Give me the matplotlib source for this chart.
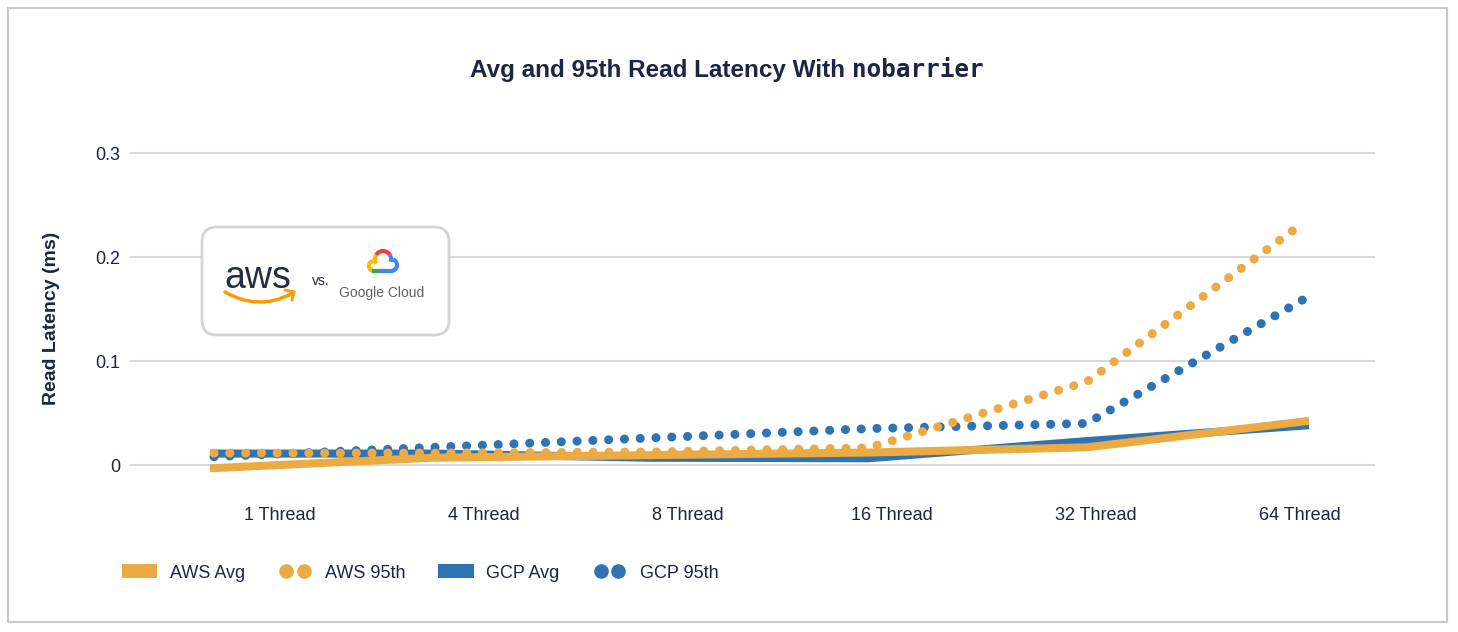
import numpy as np
import matplotlib.pyplot as plt
from matplotlib.patches import FancyBboxPatch, Rectangle, Arc, PathPatch, Patch
from matplotlib.path import Path
from matplotlib.lines import Line2D
from matplotlib.legend_handler import HandlerLine2D

# Datos
threads = ["1 Thread", "4 Thread", "8 Thread", "16 Thread", "32 Thread", "64 Thread"]
aws_avg = [-0.003, 0.007, 0.0095, 0.012, 0.017, 0.042]
aws_95 = [0.0115, 0.0115, 0.0125, 0.0165, 0.080, 0.234]
gcp_avg = [0.011, 0.011, 0.007, 0.0065, 0.023, 0.038]
gcp_95 = [0.008, 0.017, 0.026, 0.035, 0.040, 0.160]
y_ticks = [0, 0.1, 0.2, 0.3]
y_tick_labels = ["0", "0.1", "0.2", "0.3"]

AWS_C = "#ecaa43"
GCP_C = "#2e74b5"
NAVY = "#1c2541"
GRID = "#d9d9d9"

plt.rcParams['font.family'] = ['Liberation Sans', 'DejaVu Sans']

W, H = 1458, 632
fig = plt.figure(figsize=(W / 100, H / 100), dpi=100)

# Ejes principales (y: 0 -> 465 px, 0.3 -> 153 px)
ax = fig.add_axes([130 / W, 1 - 477.5 / H, (1375 - 130) / W, (477.5 - 149.9) / H])
x = np.arange(len(threads))
ax.set_xlim(-0.385, 5.321)
ax.set_ylim(-0.012, 0.303)

dots = (0, (0.01, 1.74))
ax.plot(x, gcp_avg, color=GCP_C, lw=5.8, zorder=3)
ax.plot(x, aws_avg, color=AWS_C, lw=5.8, zorder=4)
ax.plot(x, gcp_95, color=GCP_C, lw=6.5, ls=dots, dash_capstyle='round', zorder=5)
ax.plot(x, aws_95, color=AWS_C, lw=6.5, ls=dots, dash_capstyle='round', zorder=6)

ax.set_yticks(y_ticks)
ax.set_yticklabels(y_tick_labels)
# etiquetas del eje x algo desplazadas respecto a los puntos, como en el original
ax.set_xticks(0.302 + x * 0.935)
ax.set_xticklabels(threads)
ax.tick_params(axis='both', length=0, labelsize=13, labelcolor=NAVY)
ax.tick_params(axis='y', pad=7)
ax.tick_params(axis='x', pad=21)
ax.yaxis.grid(True, color=GRID, lw=1.5)
ax.set_axisbelow(True)
for s in ax.spines.values():
    s.set_visible(False)

fig.text(52 / W, 1 - 318 / H, "Read Latency (ms)", rotation=90, fontsize=14,
         fontweight='bold', color=NAVY, ha='center', va='center')

# Título con la parte "nobarrier" en monoespaciada
t1 = fig.text(0, 0, "Avg and 95th Read Latency With ", fontsize=17.5,
              fontweight='bold', color=NAVY, va='center')
t2 = fig.text(0, 0, "nobarrier", family='DejaVu Sans Mono', fontsize=17.5,
              fontweight='bold', color=NAVY, va='center')
r = fig.canvas.get_renderer()
w1 = t1.get_window_extent(r).width
w2 = t2.get_window_extent(r).width
x0 = 727 - (w1 + w2) / 2
t1.set_position((x0 / W, 1 - 70 / H))
t2.set_position(((x0 + w1) / W, 1 - 70 / H))

# Leyenda
labels = ["AWS Avg", "AWS 95th", "GCP Avg", "GCP 95th"]
h_aws95 = Line2D([], [], ls='none', marker='o', ms=9.5, color=AWS_C)
h_gcp95 = Line2D([], [], ls='none', marker='o', ms=9.5, color=GCP_C)
handles = [Patch(fc=AWS_C, ec='none'), h_aws95, Patch(fc=GCP_C, ec='none'), h_gcp95]
fig.legend(handles, labels, ncol=4, loc='center left',
           bbox_to_anchor=(122 / W, 1 - 573 / H), frameon=False, fontsize=13,
           labelcolor=NAVY, handlelength=1.95, handleheight=0.8,
           handletextpad=0.7, columnspacing=1.8, borderpad=0, borderaxespad=0,
           numpoints=2,
           handler_map={h_aws95: HandlerLine2D(marker_pad=0.5),
                        h_gcp95: HandlerLine2D(marker_pad=0.5)})

# Capa superior en píxeles para el recuadro del logo y el marco
ov = fig.add_axes([0, 0, 1, 1], zorder=10)
ov.set_xlim(0, W)
ov.set_ylim(0, H)
ov.axis('off')
ov.patch.set_alpha(0)


def Y(y):
    return H - y


ov.add_patch(Rectangle((8, Y(622)), 1439, 614, fc='none', ec='#c8c8c8', lw=1.5))
ov.add_patch(FancyBboxPatch((202, Y(335)), 247, 108,
                            boxstyle="round,pad=0,rounding_size=15",
                            fc='white', ec='#d4d4d4', lw=2))

# logo aws
ov.text(258, Y(278), "aws", fontsize=27, color="#232f3e", ha='center', va='center')
smile = Path([(225, Y(292)), (258, Y(311)), (291, Y(294))],
             [Path.MOVETO, Path.CURVE3, Path.CURVE3])
ov.add_patch(PathPatch(smile, fc='none', ec='#f90', lw=2.5, capstyle='round'))
ov.plot([285, 294, 292], [Y(290), Y(292), Y(300)], color='#f90', lw=2.2,
        solid_capstyle='round', solid_joinstyle='round')

ov.text(321, Y(281), "vs.", fontsize=10, color=NAVY, ha='center', va='center')

# logo Google Cloud
ov.add_patch(Arc((383, Y(259)), 16, 16, theta1=30, theta2=150, color='#ea4335', lw=3))
ov.add_patch(Arc((383, Y(259)), 16, 16, theta1=150, theta2=215, color='#fbbc05', lw=3))
ov.add_patch(Arc((383, Y(259)), 16, 16, theta1=-20, theta2=30, color='#4285f4', lw=3))
ov.add_patch(Arc((374, Y(266)), 10, 10, theta1=90, theta2=270, color='#fbbc05', lw=3))
ov.plot([374, 382], [Y(271), Y(271)], color='#34a853', lw=3)
ov.plot([382, 391], [Y(271), Y(271)], color='#4285f4', lw=3)
ov.add_patch(Arc((391, Y(265)), 12, 12, theta1=-90, theta2=70, color='#4285f4', lw=3))
ov.text(382, Y(293), "Google Cloud", fontsize=10, color="#5f6368", ha='center', va='center')

plt.savefig("out.png", dpi=100)
